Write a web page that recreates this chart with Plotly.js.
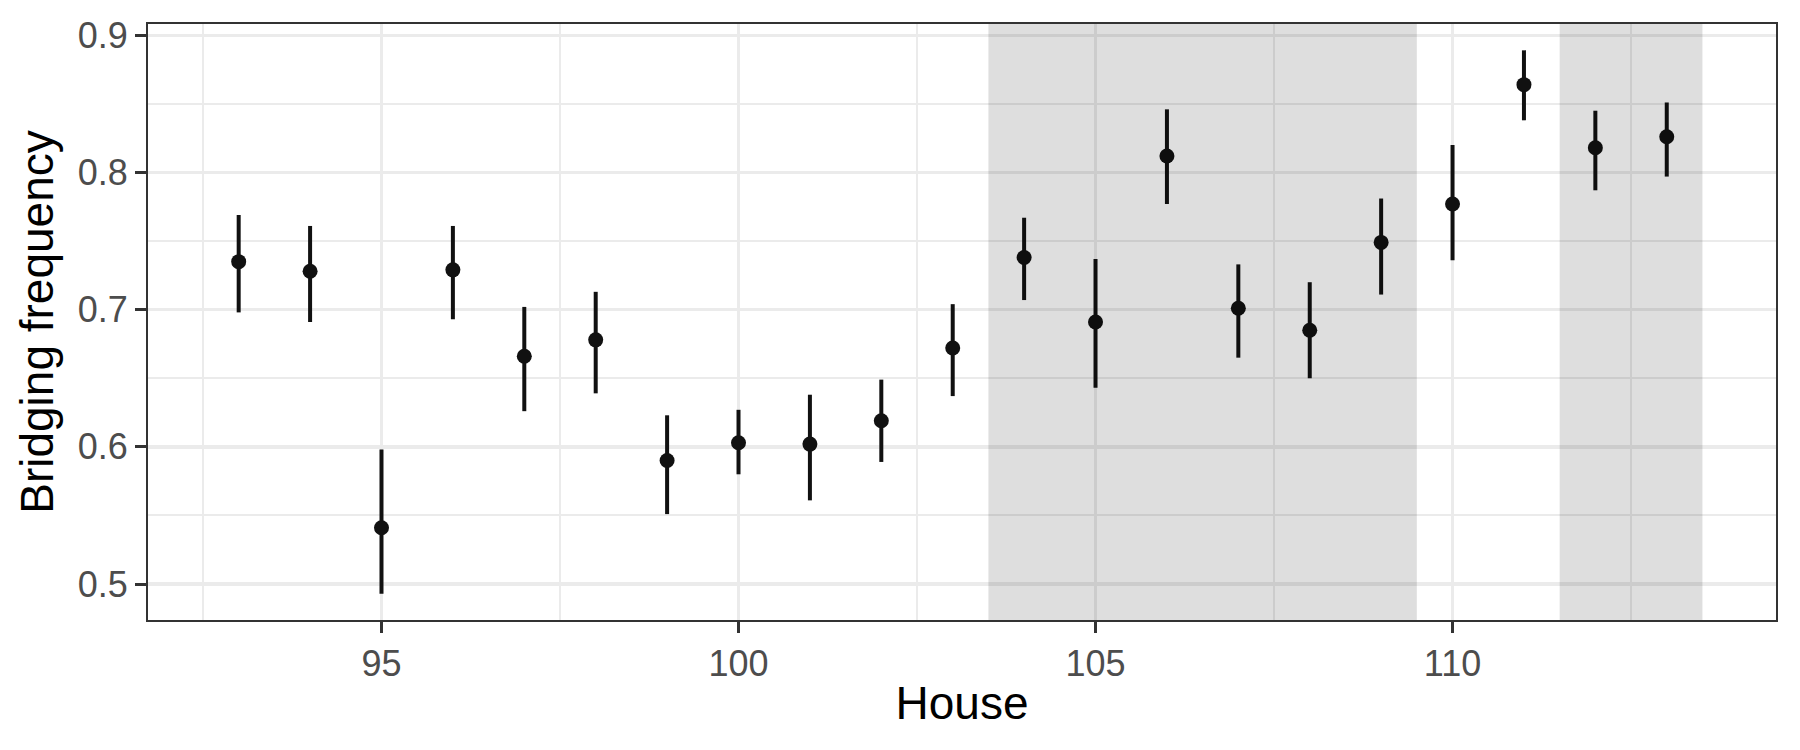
<!DOCTYPE html>
<html>
<head>
<meta charset="utf-8">
<script src="https://cdn.plot.ly/plotly-3.0.1.min.js"></script>
<style>
  html, body { margin: 0; padding: 0; background: #ffffff; }
  #chart { width: 1800px; height: 750px; }
</style>
</head>
<body>
<div id="chart"></div>
<script>
// ---- Data ----
const house = [93, 94, 95, 96, 97, 98, 99, 100, 101, 102, 103, 104, 105, 106, 107, 108, 109, 110, 111, 112, 113];
const bridgingFreq = [0.735, 0.728, 0.541, 0.729, 0.666, 0.678, 0.590, 0.603, 0.602, 0.619, 0.672, 0.738, 0.691, 0.812, 0.701, 0.685, 0.749, 0.777, 0.864, 0.818, 0.826];
const lowerCI = [0.698, 0.691, 0.493, 0.693, 0.626, 0.639, 0.551, 0.580, 0.561, 0.589, 0.637, 0.707, 0.643, 0.777, 0.665, 0.650, 0.711, 0.736, 0.838, 0.787, 0.797];
const upperCI = [0.769, 0.761, 0.598, 0.761, 0.702, 0.713, 0.623, 0.627, 0.638, 0.649, 0.704, 0.767, 0.737, 0.846, 0.733, 0.720, 0.781, 0.820, 0.889, 0.845, 0.851];

// Shaded house ranges
const shadeStart = [103.5, 111.5];
const shadeEnd = [109.5, 113.5];

// Axis ticks
const xTickVals = [95, 100, 105, 110];
const yTickVals = [0.5, 0.6, 0.7, 0.8, 0.9];
const yTickText = ["0.5", "0.6", "0.7", "0.8", "0.9"];

const errPlus = upperCI.map((u, i) => u - bridgingFreq[i]);
const errMinus = lowerCI.map((l, i) => bridgingFreq[i] - l);

const trace = {
  type: 'scatter',
  mode: 'markers',
  x: house,
  y: bridgingFreq,
  marker: { size: 15, color: '#111111' },
  error_y: {
    type: 'data',
    symmetric: false,
    array: errPlus,
    arrayminus: errMinus,
    width: 0,
    thickness: 4,
    color: '#111111'
  },
  hoverinfo: 'skip',
  showlegend: false
};

const shapes = shadeStart.map((s, i) => ({
  type: 'rect',
  xref: 'x',
  yref: 'paper',
  x0: s,
  x1: shadeEnd[i],
  y0: 0,
  y1: 1,
  fillcolor: 'rgba(0,0,0,0.13)',
  line: { width: 0 },
  layer: 'above'
}));

const tickFont = { family: 'Liberation Sans, Arial, sans-serif', size: 36, color: '#4d4d4d' };
const titleFont = { family: 'Liberation Sans, Arial, sans-serif', size: 46, color: '#000000' };

const layout = {
  width: 1800,
  height: 750,
  margin: { l: 148, r: 24, t: 24, b: 130, pad: 0 },
  paper_bgcolor: '#ffffff',
  plot_bgcolor: '#ffffff',
  showlegend: false,
  shapes: shapes,
  xaxis: {
    range: [91.73, 114.53],
    tickmode: 'array',
    tickvals: xTickVals,
    ticktext: xTickVals.map(String),
    ticks: 'outside',
    ticklen: 11,
    tickwidth: 3,
    tickcolor: '#333333',
    tickfont: tickFont,
    showgrid: true,
    gridcolor: '#ebebeb',
    gridwidth: 3.5,
    minor: { tickmode: 'array', tickvals: [92.5, 97.5, 102.5, 107.5, 112.5], showgrid: true, gridcolor: '#ebebeb', gridwidth: 2, ticks: '' },
    zeroline: false,
    showline: true,
    linecolor: '#333333',
    linewidth: 2,
    mirror: true,
    title: { text: 'House', font: titleFont, standoff: 4 }
  },
  yaxis: {
    range: [0.4738, 0.9082],
    tickmode: 'array',
    tickvals: yTickVals,
    ticktext: yTickText,
    ticks: 'outside',
    ticklen: 11,
    tickwidth: 3,
    tickcolor: '#333333',
    tickfont: tickFont,
    showgrid: true,
    gridcolor: '#ebebeb',
    gridwidth: 3.5,
    minor: { tickmode: 'array', tickvals: [0.55, 0.65, 0.75, 0.85], showgrid: true, gridcolor: '#ebebeb', gridwidth: 2, ticks: '' },
    zeroline: false,
    showline: true,
    linecolor: '#333333',
    linewidth: 2,
    mirror: true,
    title: { text: 'Bridging frequency', font: titleFont, standoff: 10 }
  }
};

Plotly.newPlot('chart', [trace], layout, { displayModeBar: false, staticPlot: true });
</script>
</body>
</html>
